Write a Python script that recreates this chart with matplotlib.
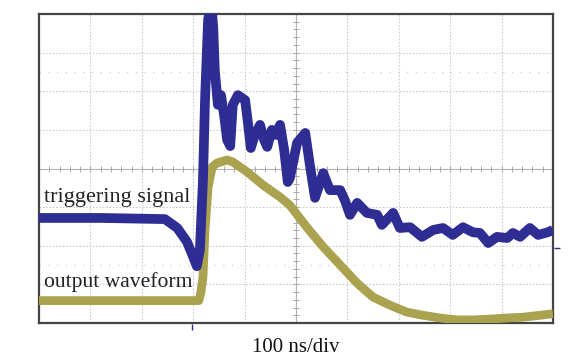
import numpy as np
import matplotlib
matplotlib.use("Agg")
import matplotlib.pyplot as plt

# time in ns from left edge of screen (100 ns/div, 10 div), amplitude in divisions
trig_t = [0, 119, 245, 269, 288, 300, 307, 313, 319, 323, 329, 335, 339, 342, 348,
          354, 360, 366, 372, 377, 387, 401, 407, 412, 420, 430, 438, 444, 453, 461,
          469, 477, 484, 488, 502, 518, 527, 537, 553, 566, 586, 595, 605, 619, 638,
          658, 667, 689, 702, 722, 745, 767, 786, 805, 825, 844, 858, 874, 891, 911,
          922, 936, 955, 971, 990, 1000]
trig_v = [-1.28, -1.28, -1.31, -1.54, -1.90, -2.29, -2.53, -2.11, -0.30, 1.77, 3.85,
          4.30, 3.65, 2.55, 1.65, 1.90, 1.39, 0.74, 0.58, 1.65, 1.90, 1.77, 1.13, 0.53,
          0.87, 1.13, 0.74, 0.56, 1.00, 0.87, 1.13, 0.48, -0.35, -0.25, 0.66, 0.92,
          0.09, -0.76, -0.12, -0.56, -0.56, -0.82, -1.20, -0.89, -1.15, -1.20, -1.46,
          -1.15, -1.54, -1.52, -1.77, -1.59, -1.54, -1.72, -1.52, -1.65, -1.67, -1.93,
          -1.77, -1.80, -1.67, -1.77, -1.54, -1.72, -1.65, -1.59]

out_t = [0, 311, 315, 319, 323, 329, 337, 346, 366, 377, 405, 436, 469, 488, 521,
         553, 586, 619, 650, 683, 716, 747, 780, 813, 844, 877, 911, 942, 975, 1000]
out_v = [-3.42, -3.42, -3.20, -2.81, -1.59, -0.48, 0.04, 0.14, 0.22, 0.17, -0.09,
         -0.43, -0.74, -0.95, -1.52, -2.03, -2.50, -2.97, -3.33, -3.54, -3.72, -3.80,
         -3.87, -3.92, -3.92, -3.90, -3.87, -3.85, -3.80, -3.76]

labels = ["triggering signal", "output waveform"]
label_v = [-0.87, -3.06]
label_size = [16, 15.6]
xlabel = "100 ns/div"
trig_pos_t = 298     # trigger position marker
ch_level_v = -2.07   # channel level marker on the right edge

blue = "#2d2d94"
olive = "#aaa24f"
serif = ["Liberation Serif", "DejaVu Serif"]

fig = plt.figure(figsize=(5.88, 3.58), dpi=100)
ax = fig.add_axes([39 / 588, 1 - 323 / 358, 514 / 588, 309 / 358])
ax.set_xlim(0, 1000)
ax.set_ylim(-4, 4)

# graticule
for gx in range(100, 1000, 100):
    ax.axvline(gx, color="#cccccc", lw=0.8, ls=(0, (1.5, 1.5)), zorder=1)
for gy in range(-3, 4):
    ax.axhline(gy, color="#cccccc", lw=0.8, ls=(0, (1.5, 1.5)), zorder=1)
for gy in (2.5, -2.5):
    ax.axhline(gy, color="#cfcfcf", lw=0.9, ls=(0, (1, 6)), zorder=1)
ax.axvline(500, color="#b4b4b4", lw=0.8, zorder=1)
ax.axhline(0, color="#b4b4b4", lw=0.8, zorder=1)
minor_t = np.arange(20, 1000, 20)
minor_v = np.arange(-3.8, 4, 0.2)
ax.plot(minor_t, np.zeros_like(minor_t), ls="none", marker="|", ms=4,
        color="#a8a8a8", mew=0.7, zorder=1)
ax.plot(np.full_like(minor_v, 500), minor_v, ls="none", marker="_", ms=4,
        color="#a8a8a8", mew=0.7, zorder=1)

# traces
ax.plot(out_t, out_v, color=olive, lw=6.3, solid_joinstyle="round",
        solid_capstyle="butt", zorder=3)
ax.plot(trig_t, trig_v, color=blue, lw=7, solid_joinstyle="round",
        solid_capstyle="butt", zorder=4)

# small scope markers outside the screen
ax.plot([trig_pos_t], [-4.1], marker="|", ms=4, color=blue, mew=1,
        clip_on=False, zorder=5)
ax.plot([1008], [ch_level_v], marker="_", ms=4, color=blue, mew=1,
        clip_on=False, zorder=5)

for txt, v, fs in zip(labels, label_v, label_size):
    ax.text(9, v, txt, family=serif, fontsize=fs, color="#222222",
            va="baseline", ha="left", zorder=5)

ax.set_xticks([])
ax.set_yticks([])
for s in ax.spines.values():
    s.set_color("#444444")
    s.set_linewidth(1.6)

fig.text(296 / 588, 1 - 352 / 358, xlabel, family=serif, fontsize=15,
         color="#111111", ha="center", va="baseline")

fig.savefig("out.png", dpi=100)
